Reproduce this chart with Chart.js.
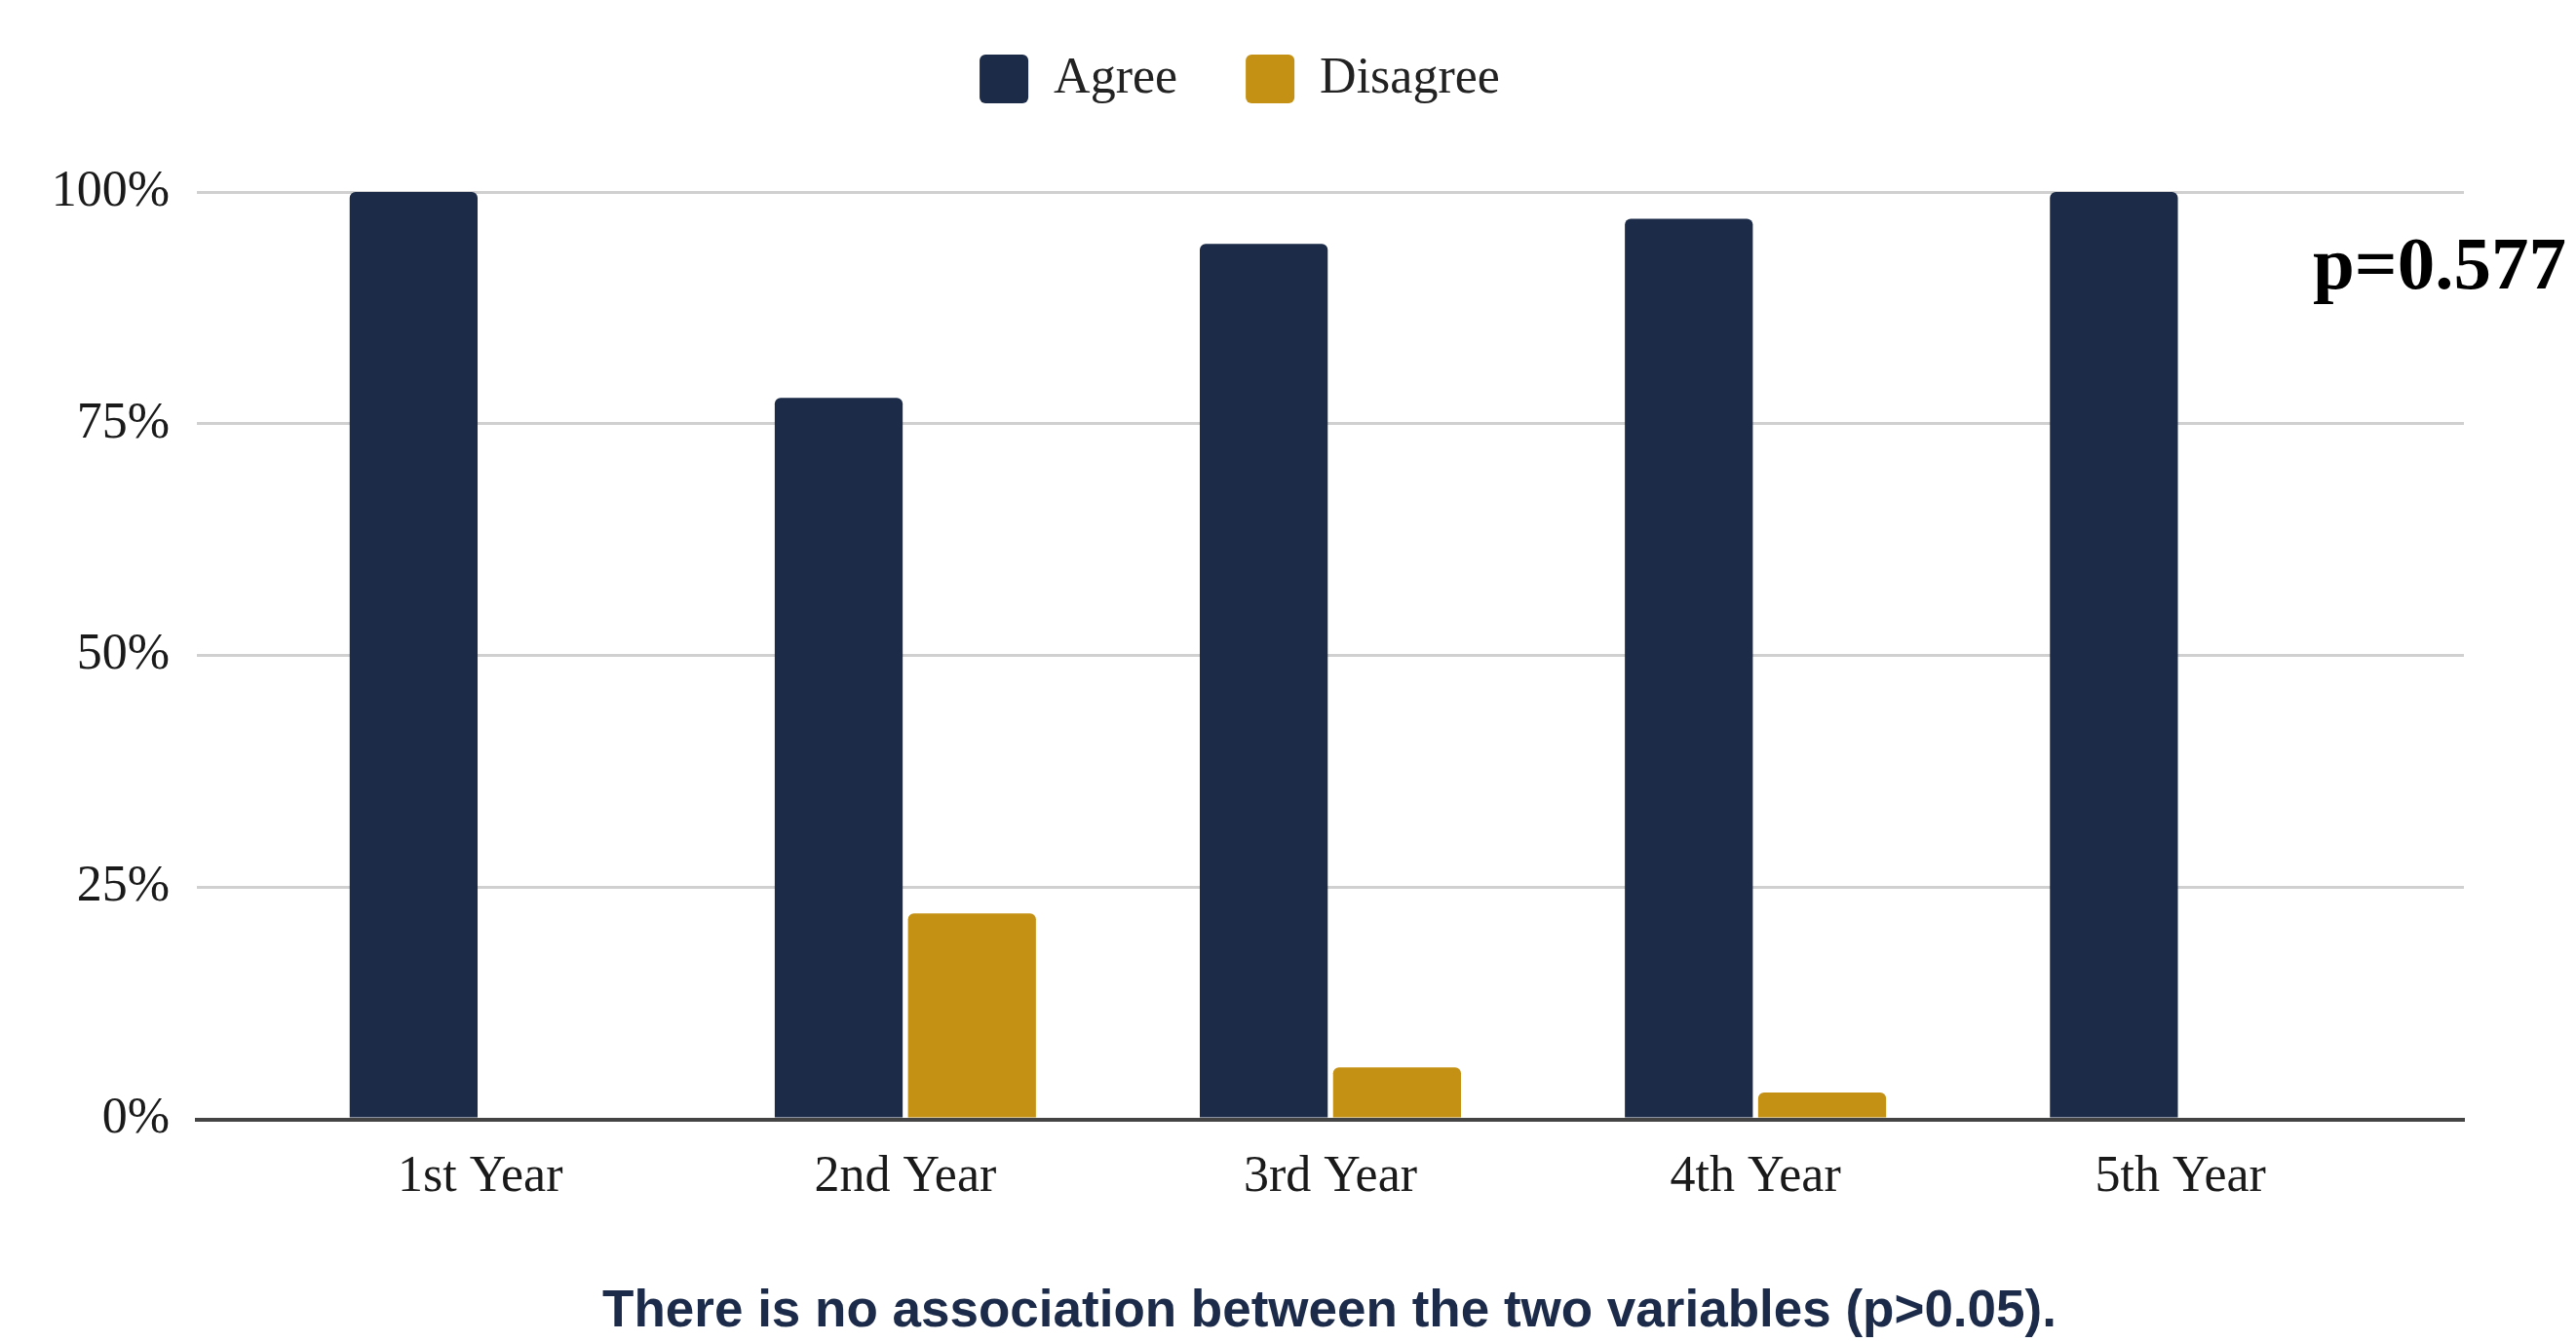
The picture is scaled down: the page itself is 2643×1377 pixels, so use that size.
<!DOCTYPE html>
<html>
<head>
<meta charset="utf-8">
<title>Agree / Disagree by year</title>
<script src="https://cdn.jsdelivr.net/npm/chart.js@4.4.1/dist/chart.umd.min.js"></script>
<style>
  html, body { margin: 0; padding: 0; background: #ffffff; }
  #chart { display: block; }
</style>
</head>
<body>
<canvas id="chart" width="2643" height="1377"></canvas>
<script>
// data
const years = ["1st Year", "2nd Year", "3rd Year", "4th Year", "5th Year"];
const agree = [100, 77.8, 94.4, 97.1, 100];
const disagree = [0, 22.2, 5.6, 2.9, 0];
const yTicks = [0, 25, 50, 75, 100];
const pValueText = "p=0.577";
const footnote = "There is no association between the two variables (p>0.05).";

const NAVY = "#1b2b48";
const GOLD = "#c59114";
const SERIF = "'Liberation Serif', 'Times New Roman', serif";

// bars sit on a numeric x axis (1..5) so the grid can run past the outer groups
const toPoints = vals => vals.map((v, i) => ({ x: i + 1, y: v }));

// push the plot area down below the legend
const legendGap = {
  id: "legendGap",
  beforeInit(chart) {
    const origFit = chart.legend.fit;
    chart.legend.fit = function () {
      origFit.bind(chart.legend)();
      this.height += 80;
    };
  }
};

// p-value note on the right, footnote under the axis
const notes = {
  id: "notes",
  afterDraw(chart) {
    const { ctx, chartArea } = chart;
    ctx.save();
    ctx.font = "bold 77px " + SERIF;
    ctx.fillStyle = "#000";
    ctx.textAlign = "left";
    ctx.textBaseline = "middle";
    ctx.fillText(pValueText, chartArea.right - 155, chartArea.top + 79);

    ctx.font = "bold 53px 'Liberation Sans', Arial, sans-serif";
    ctx.fillStyle = "#1c2b49";
    ctx.textAlign = "center";
    ctx.fillText(footnote, 1364, chartArea.bottom + 198);
    ctx.restore();
  }
};

const ctx = document.getElementById("chart").getContext("2d");
new Chart(ctx, {
  type: "bar",
  data: {
    datasets: [
      {
        label: "Agree",
        data: toPoints(agree),
        backgroundColor: NAVY,
        borderRadius: 6,
        borderSkipped: "start"
      },
      {
        label: "Disagree",
        data: toPoints(disagree),
        backgroundColor: GOLD,
        borderRadius: 6,
        borderSkipped: "start"
      }
    ]
  },
  options: {
    responsive: false,
    devicePixelRatio: 1,
    animation: false,
    categoryPercentage: 0.627,
    barPercentage: 0.96,
    layout: { padding: { left: 16, right: 115, top: -15, bottom: 108 } },
    scales: {
      x: {
        type: "linear",
        offset: false,
        min: 1 / 3,
        max: 5 + 2 / 3,
        afterBuildTicks: scale => {
          scale.ticks = years.map((_, i) => ({ value: i + 1 }));
        },
        ticks: {
          padding: 29,
          color: "#1a1a1a",
          font: { family: SERIF, size: 52 },
          maxRotation: 0,
          callback: v => years[v - 1] ?? ""
        },
        grid: { display: false, drawTicks: false, offset: false },
        border: { display: true, color: "#444", width: 4 }
      },
      y: {
        min: 0,
        max: 100,
        afterBuildTicks: scale => {
          scale.ticks = yTicks.map(v => ({ value: v }));
        },
        afterFit: scale => { scale.width = 186; },
        ticks: {
          padding: 28,
          color: "#1a1a1a",
          font: { family: SERIF, size: 52 },
          callback: v => v + "%"
        },
        grid: {
          color: c => (c.tick && c.tick.value === 0 ? "#444" : "#d0d0d0"),
          lineWidth: c => (c.tick && c.tick.value === 0 ? 4 : 3),
          drawTicks: false
        },
        border: { display: false }
      }
    },
    plugins: {
      legend: {
        position: "top",
        labels: {
          boxWidth: 50,
          boxHeight: 50,
          padding: 70,
          useBorderRadius: true,
          borderRadius: 6,
          color: "#222",
          font: { family: SERIF, size: 52 }
        }
      },
      title: { display: false },
      tooltip: { enabled: false }
    }
  },
  plugins: [legendGap, notes]
});
</script>
</body>
</html>
